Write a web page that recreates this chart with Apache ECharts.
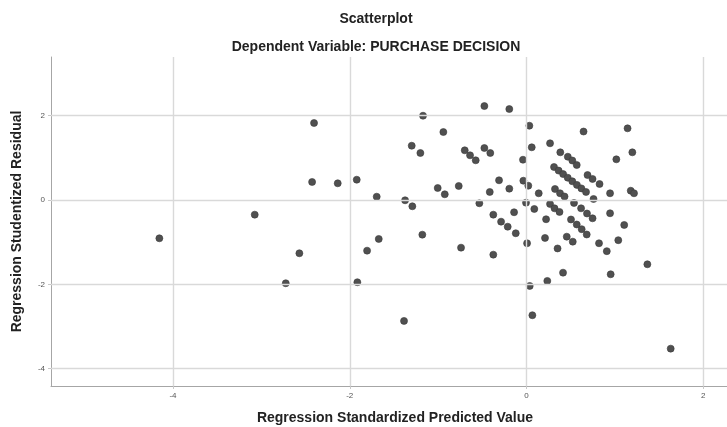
<!DOCTYPE html>
<html>
<head>
<meta charset="utf-8">
<script src="https://cdn.jsdelivr.net/npm/echarts@6/dist/echarts.min.js"></script>
<style>
html,body{margin:0;padding:0;background:#fff;overflow:hidden;}
#chart{width:727px;height:427px;}
</style>
</head>
<body>
<div id="chart"></div>
<script>
// Regression Standardized Predicted Value (x)
const predicted = [
  -4.154, -3.075, -2.724, -2.570, -2.404, -2.426, -2.136, -1.921, -1.914, -1.804,
  -1.695, -1.672, -1.386, -1.374, -1.292, -1.299, -1.201, -1.179, -1.171, -1.005,
  -0.941, -0.925, -0.767, -0.741, -0.699, -0.639, -0.575, -0.534, -0.477, -0.477,
  -0.410, -0.416, -0.376, -0.376, -0.311, -0.288, -0.213, -0.195, -0.195, -0.141,
  -0.122, -0.040, -0.036, 0.020, -0.006, 0.006, 0.032, 0.036, 0.059, 0.066,
  0.088, 0.138, 0.209, 0.221, 0.235, 0.266, 0.266, 0.317, 0.373, 0.322,
  0.379, 0.430, 0.351, 0.382, 0.467, 0.518, 0.568, 0.311, 0.363, 0.414,
  0.466, 0.518, 0.570, 0.621, 0.673, 0.413, 0.455, 0.523, 0.537, 0.617,
  0.684, 0.747, 0.503, 0.568, 0.624, 0.681, 0.645, 0.690, 0.747, 0.826,
  0.758, 0.820, 0.908, 0.945, 0.945, 0.952, 1.016, 1.038, 1.105, 1.143,
  1.179, 1.216, 1.197, 1.367, 1.631
];
// Regression Studentized Residual (y)
const residual = [
  -0.908, -0.348, -1.974, -1.263, 1.825, 0.427, 0.396, 0.481, -1.950, -1.201,
  0.078, -0.924, -2.867, -0.007, -0.149, 1.287, 1.114, -0.822, 1.998, 0.284,
  1.611, 0.135, 0.332, -1.130, 1.178, 1.059, 0.941, -0.078, 2.227, 1.232,
  1.114, 0.190, -0.348, -1.296, 0.467, -0.514, -0.633, 2.156, 0.268, -0.291,
  -0.789, 0.955, 0.457, 0.339, -0.064, -1.026, 1.761, -2.038, 1.249, -2.732,
  -0.213, 0.159, -0.900, -0.457, -1.919, 1.344, -0.095, -0.197, -0.284, 0.261,
  0.159, 0.083, -1.149, 1.130, 1.026, 0.936, 0.829, 0.782, 0.697, 0.614,
  0.528, 0.443, 0.358, 0.275, 0.190, -1.723, -0.870, -0.988, -0.071, -0.197,
  -0.320, -0.434, -0.462, -0.581, -0.692, -0.818, 1.623, 0.592, 0.498, 0.379,
  0.024, -1.026, -1.213, 0.159, -0.315, -1.761, 0.964, -0.953, -0.592, 1.699,
  0.220, 0.159, 1.130, -1.524, -3.524
];
const xTicks = [-4, -2, 0, 2];
const yTicks = [-4, -2, 0, 2];
const titleText = 'Scatterplot';
const subtitleText = 'Dependent Variable: PURCHASE DECISION';
const xName = 'Regression Standardized Predicted Value';
const yName = 'Regression Studentized Residual';

const points = predicted.map((x, i) => [x, residual[i]]);
const FONT = '"Liberation Sans", Arial, sans-serif';

const chart = echarts.init(document.getElementById('chart'), null, {renderer: 'canvas'});
chart.setOption({
  animation: false,
  backgroundColor: '#ffffff',
  title: [
    {text: titleText, left: 371, top: 7, textAlign: 'center',
     textStyle: {fontFamily: FONT, fontSize: 14, fontWeight: 'bold', color: '#222'}},
    {text: subtitleText, left: 371, top: 35, textAlign: 'center',
     textStyle: {fontFamily: FONT, fontSize: 14, fontWeight: 'bold', color: '#222'}}
  ],
  grid: {left: 51, top: 57, right: 0, bottom: 41, containLabel: false, outerBoundsMode: 'none'},
  xAxis: {
    type: 'value', min: -5.38, max: 2.268,
    name: xName, nameLocation: 'middle', nameGap: 25,
    nameTextStyle: {fontFamily: FONT, fontSize: 14, fontWeight: 'bold', color: '#222', padding: [0, 0, 0, 12]},
    axisLine: {show: true, onZero: false, lineStyle: {color: '#a6a6a6', width: 1}},
    axisTick: {show: true, length: 3, customValues: xTicks, lineStyle: {color: '#c8c8c8'}},
    axisLabel: {customValues: xTicks, fontFamily: FONT, fontSize: 8, color: '#555', margin: 6},
    splitLine: {show: false}
  },
  yAxis: {
    type: 'value', min: -4.41, max: 3.39,
    name: yName, nameLocation: 'middle', nameGap: 27, nameRotate: 90,
    nameTextStyle: {fontFamily: FONT, fontSize: 14, fontWeight: 'bold', color: '#222'},
    axisLine: {show: true, onZero: false, lineStyle: {color: '#a6a6a6', width: 1}},
    axisTick: {show: true, length: 3, customValues: yTicks, lineStyle: {color: '#c8c8c8'}},
    axisLabel: {customValues: yTicks, fontFamily: FONT, fontSize: 8, color: '#555', margin: 6},
    splitLine: {show: false}
  },
  series: [
    {
      type: 'scatter', data: [], z: 1, silent: true,
      markLine: {
        silent: true, symbol: 'none', label: {show: false},
        lineStyle: {color: '#d9d9d9', width: 1.4, type: 'solid'},
        emphasis: {disabled: true},
        data: xTicks.map(v => ({xAxis: v})).concat(yTicks.map(v => ({yAxis: v})))
      }
    },
    {
      type: 'scatter', data: points, z: 3,
      symbol: 'circle', symbolSize: 7,
      itemStyle: {color: '#505050', borderColor: '#3a3a3a', borderWidth: 0.6, opacity: 1}
    }
  ]
});
</script>
</body>
</html>
